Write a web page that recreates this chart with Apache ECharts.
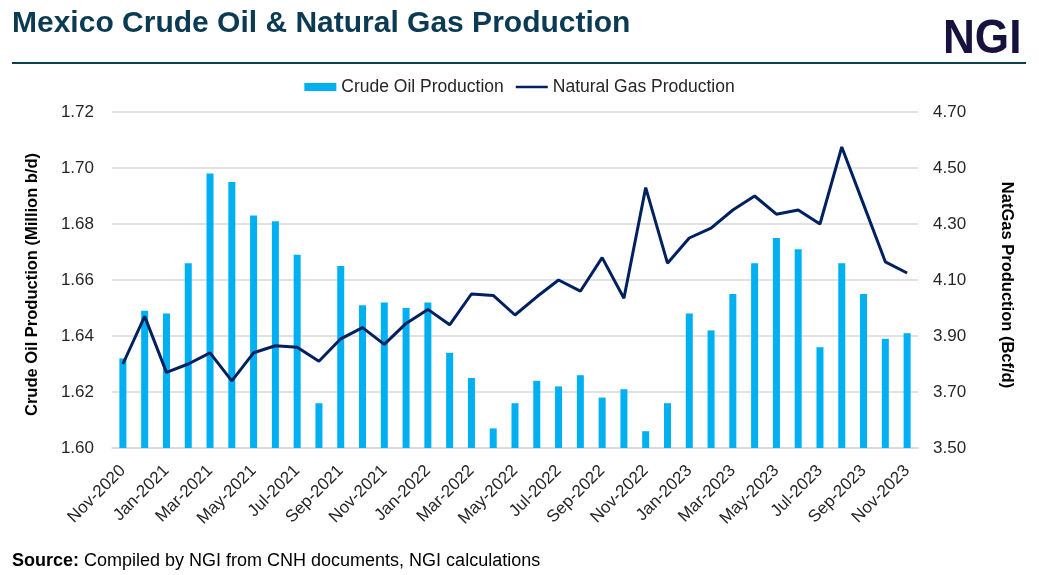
<!DOCTYPE html>
<html>
<head>
<meta charset="utf-8">
<script src="https://cdn.jsdelivr.net/npm/echarts@6/dist/echarts.min.js"></script>
<style>html,body{margin:0;padding:0;background:#fff;}#c{width:1039px;height:575px;}</style>
</head>
<body>
<div id="c"></div>
<script>
const categories = ["Nov-2020","Dec-2020","Jan-2021","Feb-2021","Mar-2021","Apr-2021","May-2021","Jun-2021","Jul-2021","Aug-2021","Sep-2021","Oct-2021","Nov-2021","Dec-2021","Jan-2022","Feb-2022","Mar-2022","Apr-2022","May-2022","Jun-2022","Jul-2022","Aug-2022","Sep-2022","Oct-2022","Nov-2022","Dec-2022","Jan-2023","Feb-2023","Mar-2023","Apr-2023","May-2023","Jun-2023","Jul-2023","Aug-2023","Sep-2023","Oct-2023","Nov-2023"];
const crudeOil = [1.632,1.649,1.648,1.666,1.698,1.695,1.683,1.681,1.669,1.616,1.665,1.651,1.652,1.650,1.652,1.634,1.625,1.607,1.616,1.624,1.622,1.626,1.618,1.621,1.606,1.616,1.648,1.642,1.655,1.666,1.675,1.671,1.636,1.666,1.655,1.639,1.641];
const natGas = [3.80,3.97,3.77,3.80,3.84,3.74,3.84,3.865,3.86,3.81,3.89,3.93,3.87,3.945,3.995,3.94,4.05,4.045,3.975,4.04,4.10,4.06,4.18,4.035,4.43,4.16,4.25,4.285,4.35,4.40,4.335,4.35,4.30,4.575,4.37,4.165,4.125];
const leftTicks = {min:1.60, max:1.72, interval:0.02};
const rightTicks = {min:3.50, max:4.70, interval:0.20};

const chart = echarts.init(document.getElementById('c'));
const font = 'Liberation Sans, Arial, sans-serif';
const lineIcon = 'path://M0,0 L0.01,0 L0.01,0.01 Z M0,8 L0.01,8 L0.01,7.99 Z M0,2.5 L35,2.5 L35,5.5 L0,5.5 Z';
chart.setOption({
  animation:false,
  textStyle:{fontFamily:font},
  graphic:[
    {type:'text', x:12, y:24, style:{text:'Mexico Crude Oil & Natural Gas Production', font:'bold 30px ' + font, fill:'#0b3b52', verticalAlign:'middle', align:'left'}},
    {type:'text', x:943, y:39, scaleX:0.9, style:{text:'NGI', font:'bold 49px ' + font, fill:'#15133e', verticalAlign:'middle', align:'left'}},
    {type:'line', shape:{x1:12,y1:63,x2:1026,y2:63}, style:{stroke:'#0b4050', lineWidth:2}},
    {type:'text', x:12, y:561, style:{text:'{b|Source:} {n|Compiled by NGI from CNH documents, NGI calculations}', verticalAlign:'middle', align:'left', fontSize:18, fontFamily:font, fill:'#000',
      rich:{b:{fontSize:18, fontFamily:font, fontWeight:'bold', fill:'#000'}, n:{fontSize:18, fontFamily:font, fontWeight:'normal', fill:'#000'}}}}
  ],
  legend:{top:73, left:'center', itemGap:12, itemWidth:32, itemHeight:8,
    textStyle:{fontFamily:font, fontSize:17.5, color:'#262626'},
    data:[{name:'Crude Oil Production', icon:'rect'},{name:'Natural Gas Production', icon:lineIcon, itemStyle:{color:'#002060'}}]},
  grid:{left:112, right:121, top:112, bottom:127},
  xAxis:{type:'category', data:categories, boundaryGap:true,
    axisLine:{lineStyle:{color:'#d9d9d9', width:1.5}}, axisTick:{show:false},
    axisLabel:{interval:1, rotate:45, fontFamily:font, fontSize:17, color:'#262626', margin:20}},
  yAxis:[
    {type:'value', min:leftTicks.min, max:leftTicks.max, interval:leftTicks.interval, position:'left',
     name:'Crude Oil Production (Million b/d)', nameLocation:'middle', nameGap:71,
     nameTextStyle:{fontFamily:font, fontSize:16.5, fontWeight:'bold', color:'#000', padding:[0,9,0,0]},
     axisLabel:{formatter:v=>v.toFixed(2), fontFamily:font, fontSize:17, color:'#262626', margin:18},
     splitLine:{lineStyle:{color:'#d9d9d9', width:1.5}}, axisLine:{show:false}, axisTick:{show:false}},
    {type:'value', min:rightTicks.min, max:rightTicks.max, interval:rightTicks.interval, position:'right',
     name:'NatGas Production (Bcf/d)', nameLocation:'middle', nameGap:80, nameRotate:-90,
     nameTextStyle:{fontFamily:font, fontSize:16.5, fontWeight:'bold', color:'#000', padding:[0,0,0,10]},
     axisLabel:{formatter:v=>v.toFixed(2), fontFamily:font, fontSize:17, color:'#262626', margin:15},
     splitLine:{show:false}, axisLine:{show:false}, axisTick:{show:false}}
  ],
  series:[
    {name:'Crude Oil Production', type:'bar', data:crudeOil, yAxisIndex:0, barWidth:7,
     itemStyle:{color:'#00b0f0'}},
    {name:'Natural Gas Production', type:'line', data:natGas, yAxisIndex:1, symbol:'none',
     lineStyle:{color:'#002060', width:3}, itemStyle:{color:'#002060'}}
  ]
});
</script>
</body>
</html>
